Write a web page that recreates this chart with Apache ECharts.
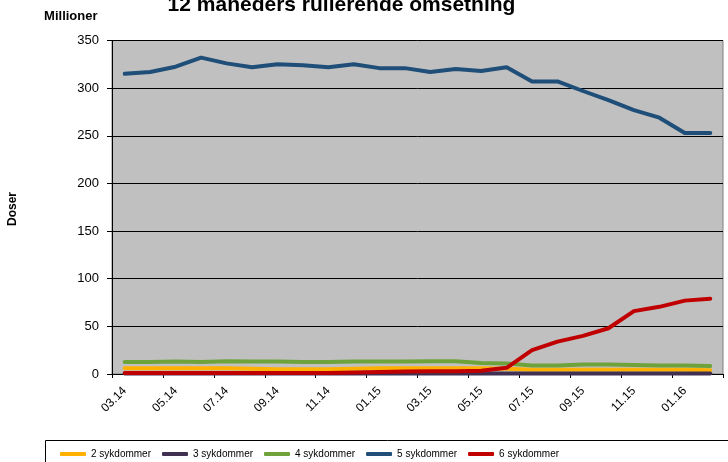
<!DOCTYPE html>
<html>
<head>
<meta charset="utf-8">
<script src="https://cdn.jsdelivr.net/npm/echarts@6/dist/echarts.min.js"></script>
<style>html,body{margin:0;padding:0;background:#fff}#c{width:728px;height:462px}</style>
</head>
<body>
<div id="c"></div>
<script>
var months = ['03.14','04.14','05.14','06.14','07.14','08.14','09.14','10.14','11.14','12.14','01.15','02.15','03.15','04.15','05.15','06.15','07.15','08.15','09.15','10.15','11.15','12.15','01.16','02.16'];
var s2 = [6,6,6,6,6,5.5,5,5,5,5.5,6,6,6,6,6,5.5,4.5,4.5,4.5,4.5,4.5,4.5,4.5,4];
var s3 = [0.5,0.5,0.5,0.5,0.5,0.5,0.5,0.5,0.5,0.5,0.5,0.5,0.5,0.5,0.5,0.5,0.5,0.5,0.5,0.5,0.5,0.5,0.5,0.5];
var s4 = [12.5,12.5,13,12.5,13.5,13,13,12.5,12.5,13,13,13,13.5,13.5,11.5,11,9,9,10,10,9.5,9,9,8.5];
var s5 = [315,317,322.5,332,326,322,325,324,322,325,321,321,317,320,318,322,307,307,297,287.5,277,269,253,253];
var s6 = [1,1,1,1,1,1,1,1,1,1.5,2,2.5,3,3,3.5,6.5,25,34,40,48,66,70.5,77,79];
var names = ['2 sykdommer','3 sykdommer','4 sykdommer','5 sykdommer','6 sykdommer'];
var colors = ['#FFB000','#403152','#6EA33C','#1F4E79','#C00000'];
var yTicks = {min:0, max:350, interval:50};
var title = '12 måneders rullerende omsetning';
var unitLabel = 'Millioner';
var yName = 'Doser';

var font = 'Liberation Sans, Arial, sans-serif';
var chart = echarts.init(document.getElementById('c'), null, {renderer:'canvas'});
var all = [s2,s3,s4,s5,s6];
var series = all.map(function(d,i){
  return {name:names[i], type:'line', data:d, symbol:'none', smooth:false,
    lineStyle:{width:4, color:colors[i], cap:'round', join:'round'}, itemStyle:{color:colors[i]}, animation:false};
});
chart.setOption({
  animation:false,
  textStyle:{fontFamily:font},
  grid:{left:112, top:40.5, right:5, bottom:88, show:true, backgroundColor:'#C0C0C0', borderColor:'#808080', borderWidth:1},
  xAxis:{type:'category', data:months, boundaryGap:true,
    axisLine:{lineStyle:{color:'#000', width:1}},
    axisTick:{show:true, interval:1, length:4, lineStyle:{color:'#000'}},
    axisLabel:{interval:1, rotate:45, margin:15, fontSize:12, color:'#000', fontFamily:font}},
  yAxis:{type:'value', min:yTicks.min, max:yTicks.max, interval:yTicks.interval,
    axisLine:{show:true, lineStyle:{color:'#000', width:1}},
    axisTick:{show:true, length:5, lineStyle:{color:'#000'}},
    splitLine:{show:true, lineStyle:{color:'#000', width:1}},
    axisLabel:{margin:13, fontSize:13, color:'#000', fontFamily:font}},
  legend:{data:names, left:60, top:449, orient:'horizontal', padding:0, width:660,
    icon:'roundRect', itemWidth:26, itemHeight:4, itemGap:11,
    textStyle:{fontSize:10, color:'#000', fontFamily:font}},
  graphic:[
    {type:'rect', shape:{x:45.5, y:440.5, width:700, height:40}, style:{fill:'none', stroke:'#000', lineWidth:1}, silent:true},
    {type:'text', x:341.5, y:5, style:{text:title, font:'bold 21px '+font, fill:'#000', textAlign:'center', textVerticalAlign:'middle'}},
    {type:'text', x:70.8, y:16.5, style:{text:unitLabel, font:'bold 13px '+font, fill:'#000', textAlign:'center', textVerticalAlign:'middle'}},
    {type:'text', x:12.5, y:209, rotation:Math.PI/2, style:{text:yName, font:'bold 12px '+font, fill:'#000', textAlign:'center', textVerticalAlign:'middle'}}
  ],
  series:series
});
</script>
</body>
</html>
